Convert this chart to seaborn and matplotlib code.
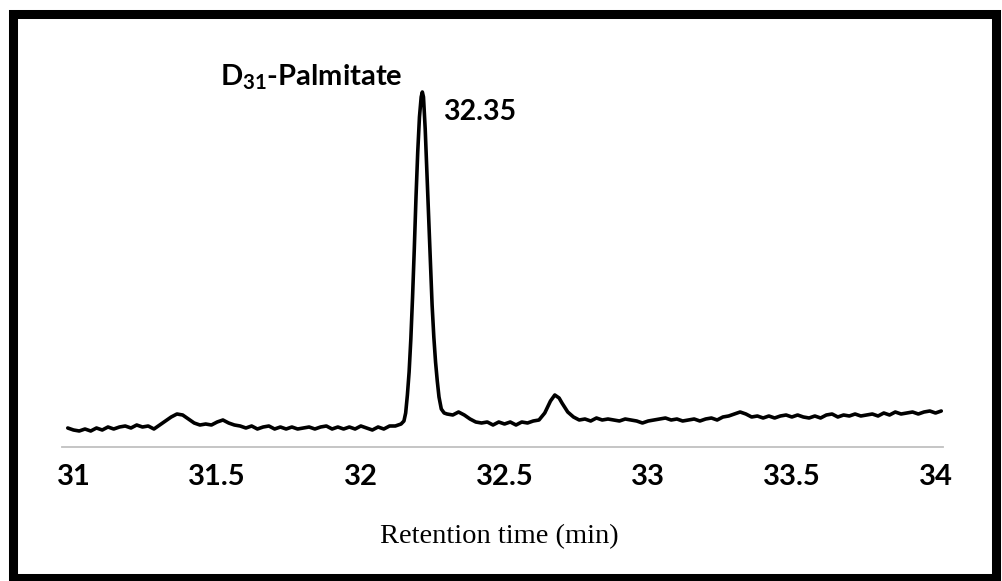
import matplotlib
matplotlib.use("Agg")
import matplotlib.pyplot as plt
from matplotlib.patches import Rectangle
import seaborn as sns
import pandas as pd

# Retention time (min) and detector signal (arbitrary units)
retention_time = [
    30.98, 31.00, 31.02, 31.04, 31.06, 31.08, 31.10, 31.12, 31.14, 31.16,
    31.18, 31.20, 31.22, 31.24, 31.26, 31.28, 31.30, 31.32, 31.34, 31.36,
    31.38, 31.40, 31.42, 31.44, 31.46, 31.48, 31.50, 31.52, 31.54, 31.56,
    31.58, 31.60, 31.62, 31.64, 31.66, 31.68, 31.70, 31.72, 31.74, 31.76,
    31.78, 31.80, 31.82, 31.84, 31.86, 31.88, 31.90, 31.92, 31.94, 31.96,
    31.98, 32.00, 32.02, 32.04, 32.06, 32.08, 32.10, 32.12, 32.14,
    32.150, 32.156, 32.162, 32.168, 32.174, 32.180, 32.186, 32.192, 32.198,
    32.204, 32.210, 32.214, 32.218, 32.224, 32.230, 32.236, 32.242, 32.248,
    32.254, 32.260, 32.266, 32.272, 32.280, 32.290,
    32.30, 32.32, 32.34, 32.36, 32.38, 32.40, 32.42, 32.44, 32.46, 32.48,
    32.50, 32.52, 32.54, 32.56, 32.58, 32.60, 32.62, 32.64, 32.66, 32.675,
    32.69, 32.70, 32.72, 32.74, 32.76, 32.78, 32.80, 32.82, 32.84, 32.86,
    32.88, 32.90, 32.92, 32.94, 32.96, 32.98, 33.00, 33.02, 33.04, 33.06,
    33.08, 33.10, 33.12, 33.14, 33.16, 33.18, 33.20, 33.22, 33.24, 33.26,
    33.28, 33.30, 33.32, 33.34, 33.36, 33.38, 33.40, 33.42, 33.44, 33.46,
    33.48, 33.50, 33.52, 33.54, 33.56, 33.58, 33.60, 33.62, 33.64, 33.66,
    33.68, 33.70, 33.72, 33.74, 33.76, 33.78, 33.80, 33.82, 33.84, 33.86,
    33.88, 33.90, 33.92, 33.94, 33.96, 33.98, 34.00, 34.02,
]
signal = [
    19, 17, 16, 18, 16, 19, 17, 20, 18, 20,
    21, 19, 22, 20, 21, 18, 22, 26, 30, 33,
    32, 28, 24, 22, 23, 22, 25, 27, 24, 22,
    21, 19, 21, 18, 20, 21, 18, 20, 18, 20,
    18, 19, 20, 18, 20, 21, 18, 20, 18, 20,
    18, 21, 19, 17, 20, 18, 21, 21, 23,
    26, 34, 52, 75, 108, 150, 198, 250, 295,
    330, 350, 355, 350, 318, 275, 230, 185, 142,
    110, 85, 66, 50, 38, 34,
    33, 32, 35, 32, 28, 25, 24, 25, 22, 25,
    23, 25, 22, 25, 24, 26, 27, 34, 46, 52,
    49, 44, 35, 30, 27, 28, 26, 29, 27, 28,
    27, 26, 28, 27, 26, 24, 26, 27, 28, 29,
    27, 28, 26, 27, 28, 26, 28, 29, 27, 30,
    31, 33, 35, 33, 30, 31, 29, 31, 29, 31,
    32, 30, 32, 30, 29, 31, 29, 32, 33, 30,
    32, 31, 33, 31, 32, 33, 31, 34, 32, 35,
    33, 34, 35, 33, 35, 36, 34, 36,
]
tick_values = [31, 31.5, 32, 32.5, 33, 33.5, 34]
tick_labels = ["31", "31.5", "32", "32.5", "33", "33.5", "34"]
peak_name = "D$_{31}$-Palmitate"
peak_time_label = "32.35"
x_label = "Retention time (min)"

df = pd.DataFrame({"time": retention_time, "signal": signal})

sns.set_theme(style="white")
plt.rcParams["font.family"] = ["Lato", "DejaVu Sans"]
plt.rcParams["mathtext.fontset"] = "custom"
plt.rcParams["mathtext.rm"] = "Lato:bold"
plt.rcParams["mathtext.it"] = "Lato:bold"
plt.rcParams["mathtext.bf"] = "Lato:bold"

W, H = 1002, 581
fig = plt.figure(figsize=(W / 100, H / 100), dpi=100)
ax_left, ax_right, ax_bottom_px, ax_top_px = 62, 943, 447, 77
ax = fig.add_axes([ax_left / W, (H - ax_bottom_px) / H,
                   (ax_right - ax_left) / W, (ax_bottom_px - ax_top_px) / H])

sns.lineplot(data=df, x="time", y="signal", color="black", linewidth=2.6,
             ax=ax, estimator=None, sort=False)

ax.set_xlim(30.96, 34.026)
ax.set_ylim(0, 370)
ax.set_xticks(tick_values)
ax.set_xticklabels(tick_labels, fontsize=21, fontweight="bold", color="black")
ax.set_yticks([])
ax.set_ylabel("")
for s in ["top", "right", "left"]:
    ax.spines[s].set_visible(False)
ax.spines["bottom"].set_color("#c0c0c0")
ax.spines["bottom"].set_linewidth(1.3)
ax.tick_params(axis="x", length=0, pad=12)

ax.set_xlabel(x_label, fontsize=20.5, family=["Liberation Serif", "DejaVu Serif"],
              color="black")
ax.xaxis.set_label_coords((499 - ax_left) / (ax_right - ax_left),
                          (ax_bottom_px - 537) / (ax_bottom_px - ax_top_px))
ax.xaxis.label.set_va("center")

ax.text(31.51, 370, peak_name, ha="left", va="center", fontsize=21,
        fontweight="bold", color="black", clip_on=False)
ax.text(32.286, 335, peak_time_label, ha="left", va="center", fontsize=20.5,
        fontweight="bold", color="black", clip_on=False)

# black frame around the figure
fig.patches.append(Rectangle((12.5 / W, 3 / H), (996 - 12.5) / W, (578 - 14) / H,
                             transform=fig.transFigure, fill=False,
                             edgecolor="black", linewidth=6.5))

fig.savefig("out.png", dpi=100)
